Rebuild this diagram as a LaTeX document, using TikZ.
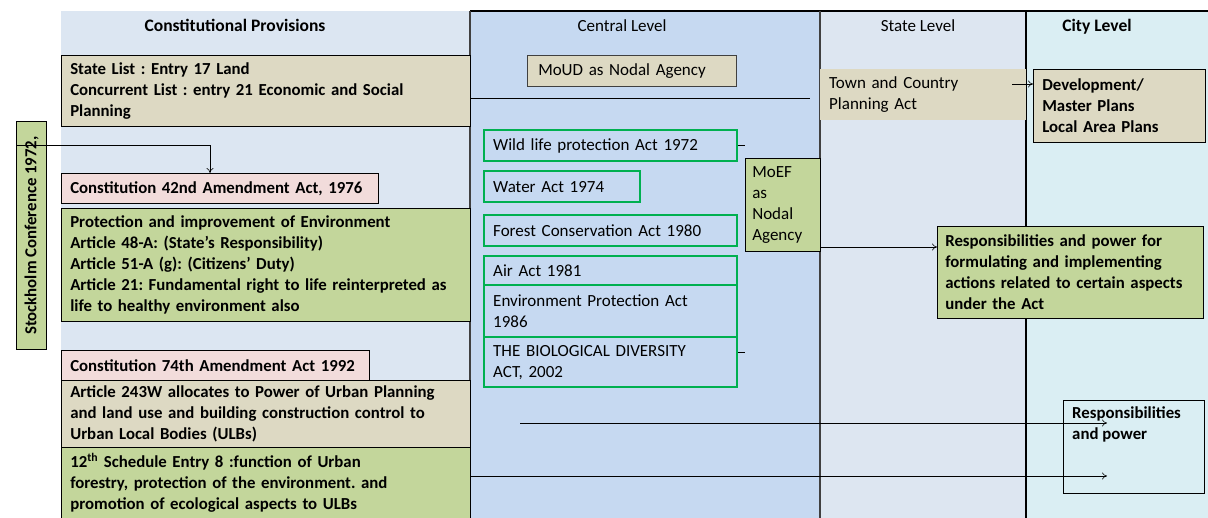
\documentclass[tikz,border=0pt]{standalone}
\usepackage{fontspec}
\setmainfont{Carlito}
\usetikzlibrary{arrows.meta}
\definecolor{cpbg}{HTML}{DCE6F2}
\definecolor{clbg}{HTML}{C6D9F1}
\definecolor{slbg}{HTML}{DDE6F1}
\definecolor{ctbg}{HTML}{DAEEF3}
\definecolor{tanf}{HTML}{DDD9C3}
\definecolor{greenf}{HTML}{C3D69B}
\definecolor{pinkf}{HTML}{F2DCDB}
\definecolor{actb}{HTML}{00B050}
\definecolor{colline}{HTML}{404040}
\frenchspacing
\begin{document}
\begin{tikzpicture}[x=1pt,y=-1pt,
  bfnt/.style={font=\fontsize{16.8}{21}\selectfont\bfseries},
  rfnt/.style={font=\fontsize{17}{21}\selectfont},
  pbox/.style={bfnt, draw=black, line width=0.6pt, anchor=north west, inner xsep=9pt, inner ysep=0pt, align=left},
  actbox/.style={rfnt, draw=actb, line width=2.4pt, fill=clbg, anchor=north west, inner xsep=9pt, inner ysep=0pt, align=left},
  hdr/.style={anchor=base, inner sep=0pt},
  arr/.style={draw=black, line width=0.6pt, -{To[length=5pt,width=7pt]}},
  thin/.style={draw=black, line width=0.6pt}]
\useasboundingbox (0,0) rectangle (1208,518);
\fill[white] (0,0) rectangle (1208,518);
% column backgrounds
\fill[cpbg] (61,11) rectangle (470,518);
\fill[clbg] (470,11) rectangle (820,518);
\fill[slbg] (820,11) rectangle (1026,518);
\fill[ctbg] (1026,11) rectangle (1208,518);
\draw[black, line width=1.4pt] (470,11) -- (1208,11);
\draw[colline, line width=2pt] (470,11) -- (470,518);
\draw[colline, line width=2pt] (820,11) -- (820,518);
\draw[black, line width=2pt] (1026,11) -- (1026,518);
\draw[thin] (61,55) -- (470,55);
\draw[thin] (470,98) -- (810,98);
% headers
\node[hdr, font=\fontsize{17.5}{21}\selectfont\bfseries] (hcp) at (235,32) {Constitutional Provisions};
\node[hdr, rfnt] (hcl) at (622,32) {Central Level};
\node[hdr, rfnt] (hsl) at (918,32) {State Level};
\node[hdr, font=\fontsize{17.5}{21}\selectfont\bfseries] (hct) at (1097,32) {City Level};
% constitutional column
\node[pbox, fill=tanf, text width=391pt, minimum height=71pt] (state) at (61,55)
  {State List : Entry 17 Land\\Concurrent List :  entry 21 Economic and Social\\Planning};
\node[pbox, fill=pinkf, text width=299pt, minimum height=30pt] (c42) at (61,173)
  {Constitution 42nd Amendment Act, 1976};
\node[pbox, fill=greenf, text width=391pt, minimum height=113pt] (prot) at (61,208)
  {Protection and improvement of Environment\\Article 48-A: (State’s Responsibility)\\Article 51-A (g): (Citizens’ Duty)\\Article 21: Fundamental right to life reinterpreted as\\life to healthy environment also};
\node[pbox, fill=pinkf, text width=290pt, minimum height=30pt] (c74) at (61,350)
  {Constitution 74th Amendment Act 1992};
\node[pbox, fill=tanf, text width=391pt, minimum height=67pt] (art) at (61,380)
  {Article 243W allocates to Power of  Urban Planning\\and land use and building construction control to\\Urban Local Bodies (ULBs)};
\node[pbox, fill=greenf, text width=391pt, minimum height=71pt] (sched) at (61,447)
  {12\textsuperscript{th} Schedule Entry 8 :function of Urban\\forestry, protection of the environment. and\\promotion of ecological aspects to ULBs};
% Stockholm
\node[draw=black, fill=greenf, line width=1pt, minimum width=30pt, minimum height=228pt, inner sep=0pt, anchor=north west] (stock) at (16,121) {};
\node[bfnt, rotate=90, inner sep=0pt] (stocktxt) at (stock.center) {Stockholm Conference 1972,};
\draw[arr] (stock.west |- 0,145) -| (c42.north -| 210,0);
% central column
\node[rfnt, fill=tanf, draw=colline, line width=0.5pt, anchor=north west, inner xsep=11pt, inner ysep=0pt, minimum width=209pt, minimum height=31pt, text width=187pt, align=left] (moud) at (527,55)
  {MoUD as Nodal Agency};
\node[actbox, text width=235pt, minimum height=31pt] (wild) at (483,129) {Wild life protection Act 1972};
\node[actbox, text width=138pt, minimum height=31pt] (water) at (483,170) {Water  Act 1974};
\node[actbox, text width=235pt, minimum height=31pt] (forest) at (483,214) {Forest Conservation Act 1980};
\node[actbox, text width=235pt, minimum height=29pt] (air) at (483,255) {Air Act 1981};
\node[actbox, text width=235pt, minimum height=52pt] (env) at (483,284) {Environment Protection Act\\1986};
\node[actbox, text width=235pt, minimum height=50pt] (bio) at (483,336) {THE BIOLOGICAL DIVERSITY\\ACT, 2002};
\node[rfnt, fill=greenf, draw=black, line width=0.6pt, anchor=north west, inner xsep=7pt, inner ysep=0pt, minimum width=75pt, minimum height=93pt, text width=61pt, align=left] (moef) at (745,158)
  {MoEF\\as\\Nodal\\Agency};
\draw[thin] (wild.east |- 0,145) -- (moef.west |- 0,145);
\draw[thin] (bio.east |- 0,352) -- (moef.west |- 0,352);
% state column
\node[rfnt, fill=tanf, anchor=north west, inner xsep=9pt, inner ysep=0pt, minimum width=206pt, minimum height=51pt, text width=188pt, align=left] (town) at (820,69)
  {Town and Country\\Planning Act};
% city column
\node[pbox, fill=tanf, text width=154pt, minimum height=73pt] (dev) at (1033,69)
  {Development/\\Master Plans\\Local Area Plans};
\draw[arr] (town.east |- 0,84) ++(-14,0) -- (dev.west |- 0,84);
\node[pbox, fill=greenf, text width=250pt, minimum height=92pt, inner xsep=8pt] (resp) at (937,226)
  {Responsibilities and power for\\formulating and implementing\\actions related to certain aspects\\under the Act};
\draw[arr] (moef.east |- 0,247) -- (resp.west |- 0,247);
\node[draw=black, line width=0.6pt, anchor=north west, minimum width=141pt, minimum height=93pt, inner sep=0pt] (resp2) at (1063,400) {};
\node[bfnt, anchor=north west, inner sep=0pt, align=left] (resp2txt) at (1072,406) {Responsibilities\\and power};
\coordinate (a1s) at (520,423);
\coordinate (a1e) at (1107,423);
\coordinate (a2e) at (1107,476);
\draw[arr] (a1s) -- (a1e);
\draw[arr] (sched.east |- a2e) -- (a2e);
\end{tikzpicture}
\end{document}
